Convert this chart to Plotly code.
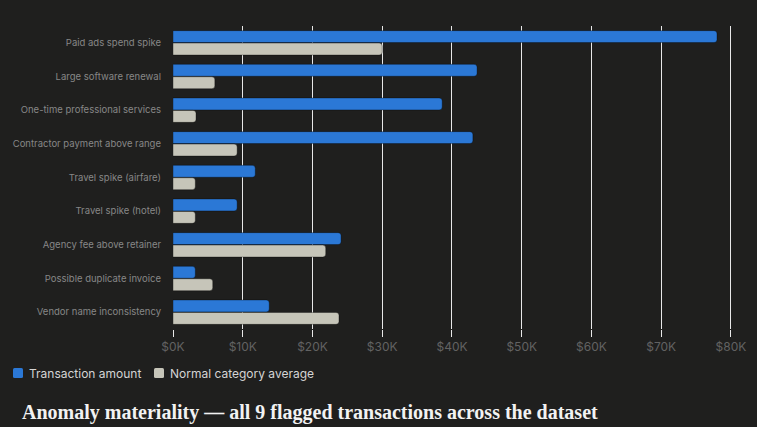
import plotly.graph_objects as go

categories = [
    "Paid ads spend spike",
    "Large software renewal",
    "One-time professional services",
    "Contractor payment above range",
    "Travel spike (airfare)",
    "Travel spike (hotel)",
    "Agency fee above retainer",
    "Possible duplicate invoice",
    "Vendor name inconsistency",
]
transaction_amount = [78000, 43600, 38600, 43000, 11800, 9200, 24100, 3200, 13800]
category_average = [30000, 6000, 3300, 9200, 3200, 3200, 21900, 5700, 23800]
tick_vals = [0, 10000, 20000, 30000, 40000, 50000, 60000, 70000, 80000]
tick_text = ["$0K", "$10K", "$20K", "$30K", "$40K", "$50K", "$60K", "$70K", "$80K"]
series_names = ["Transaction amount", "Normal category average"]
series_colors = ["#2b78d6", "#c6c5b9"]

BG = "#1f1f1e"
W, H = 757, 427
ML, MR, MT, MB = 173, 25, 26, 98
PW, PH = W - ML - MR, H - MT - MB


def px(x):
    return (x - ML) / PW


def py(y):
    return (H - MB - y) / PH


fig = go.Figure()
for vals, name, col in zip([transaction_amount, category_average], series_names, series_colors):
    fig.add_trace(go.Bar(
        y=categories, x=vals, orientation="h", name=name,
        marker=dict(color=col, line=dict(color="rgba(0,0,0,0.35)", width=1)),
        showlegend=False,
    ))

# manual legend
shapes = []
annotations = []
legend_x = [13, 154]
for lx, name, col in zip(legend_x, series_names, series_colors):
    x0, x1, y0, y1, r = lx, lx + 10, 368, 378, 1.5
    path = (f"M {px(x0+r)},{py(y0)} L {px(x1-r)},{py(y0)} Q {px(x1)},{py(y0)} {px(x1)},{py(y0+r)} "
            f"L {px(x1)},{py(y1-r)} Q {px(x1)},{py(y1)} {px(x1-r)},{py(y1)} "
            f"L {px(x0+r)},{py(y1)} Q {px(x0)},{py(y1)} {px(x0)},{py(y1-r)} "
            f"L {px(x0)},{py(y0+r)} Q {px(x0)},{py(y0)} {px(x0+r)},{py(y0)} Z")
    shapes.append(dict(type="path", path=path, xref="paper", yref="paper",
                       fillcolor=col, line=dict(width=0)))
    annotations.append(dict(
        text=name, xref="paper", yref="paper", x=px(lx + 14), y=py(373),
        xanchor="left", yanchor="middle", showarrow=False,
        font=dict(family="Inter, Roboto, sans-serif", size=12, color="#d4d4d4"),
    ))

annotations.append(dict(
    text="Anomaly materiality — all 9 flagged transactions across the dataset",
    xref="paper", yref="paper", x=px(20), y=py(412), xanchor="left", yanchor="middle",
    showarrow=False,
    font=dict(family="Liberation Serif, DejaVu Serif, serif", size=20, color="#f2f2f2", weight="bold"),
))

fig.update_layout(
    width=W, height=H,
    paper_bgcolor=BG, plot_bgcolor=BG,
    margin=dict(l=ML, r=MR, t=MT, b=MB),
    barmode="group", bargap=0.26, bargroupgap=0.04,
    barcornerradius=3,
    showlegend=False,
    font=dict(family="Inter, Roboto, sans-serif", color="#777777", size=10),
    xaxis=dict(
        range=[0, 80150], tickvals=tick_vals, ticktext=tick_text,
        showgrid=True, gridcolor="#e8e8e8", gridwidth=1,
        zeroline=False, showline=False, automargin=False,
        ticks="outside", ticklen=7, tickcolor="#e8e8e8", tickwidth=1,
        tickfont=dict(size=12, color="#626262"),
    ),
    yaxis=dict(
        autorange="reversed", showgrid=False, zeroline=False, automargin=False,
        ticks="", ticklabelstandoff=11,
        tickfont=dict(size=9.5, color="#878787"),
    ),
    shapes=shapes,
    annotations=annotations,
)

fig.write_html("out.html")
